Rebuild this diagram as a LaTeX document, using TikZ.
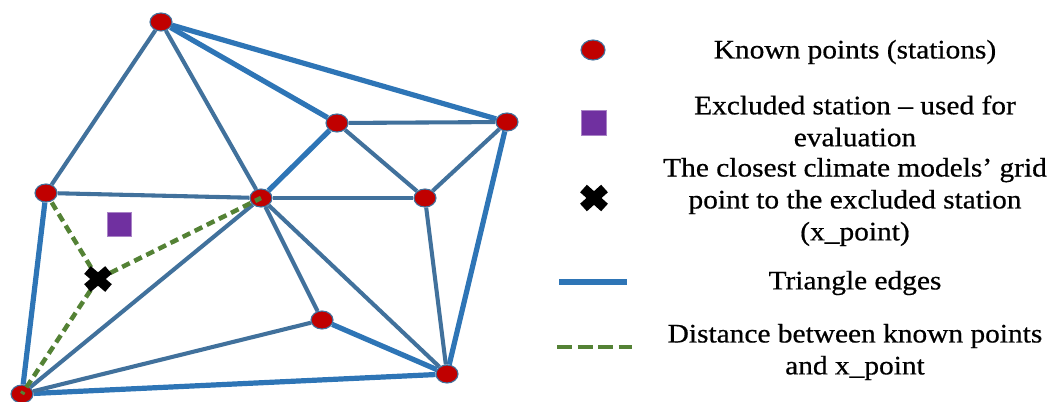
\documentclass[tikz,border=0pt]{standalone}
\usepackage{fontspec}
\setmainfont{Liberation Serif}[FakeStretch=1.1, FakeBold=0.6]
\usepackage{xcolor}
\definecolor{edgeblue}{HTML}{2E75B6}
\definecolor{innerblue}{HTML}{41719C}
\definecolor{stationred}{HTML}{C00000}
\definecolor{excludedpurple}{HTML}{7030A0}
\definecolor{distgreen}{HTML}{548235}
\usetikzlibrary{shapes.geometric, backgrounds}

\begin{document}
\begin{tikzpicture}[x=0.025cm, y=-0.025cm,
    station/.style={ellipse, draw=innerblue, line width=0.8pt, fill=stationred,
      minimum width=0.55cm, minimum height=0.45cm, inner sep=0pt},
    outeredge/.style={edgeblue, line width=3.7pt},
    inneredge/.style={innerblue, line width=2.9pt},
    distline/.style={distgreen, line width=3.2pt, dash pattern=on 6pt off 3.6pt},
    crossline/.style={black, line width=7.2pt},
    excluded/.style={fill=excludedpurple, draw=excludedpurple!60, line width=0.4pt,
      minimum size=0.59cm, inner sep=0pt},
    legendtext/.style={align=center, font={\fontsize{19}{22.7}\selectfont}}
]
  \useasboundingbox (0,0) rectangle (1050,401);

  % Stationen
  \node[station] (A) at (161,22) {};
  \node[station] (B) at (46,193) {};
  \node[station] (C) at (261,198) {};
  \node[station] (D) at (337,123) {};
  \node[station] (E) at (507,122) {};
  \node[station] (F) at (425,198) {};
  \node[station] (G) at (322,320) {};
  \node[station] (H) at (447,374) {};
  \node[station] (I) at (22,394) {};

  % Dreieckskanten
  \begin{scope}[on background layer]
    \draw[outeredge] (A) -- (E);
    \draw[outeredge] (A) -- (D);
    \draw[outeredge] (C) -- (D);
    \draw[outeredge] (B) -- (I);
    \draw[outeredge] (I) -- (H);
    \draw[outeredge] (E) -- (H);
    \draw[outeredge] (G) -- (H);
    \draw[inneredge] (A) -- (B);
    \draw[inneredge] (A) -- (C);
    \draw[inneredge] (B) -- (C);
    \draw[inneredge] (D) -- (E);
    \draw[inneredge] (D) -- (F);
    \draw[inneredge] (E) -- (F);
    \draw[inneredge] (C) -- (F);
    \draw[inneredge] (F) -- (H);
    \draw[inneredge] (C) -- (H);
    \draw[inneredge] (C) -- (G);
    \draw[inneredge] (C) -- (I);
    \draw[inneredge] (G) -- (I);
  \end{scope}

  % ausgeschlossene Station und Gitterpunkt
  \node[excluded] (excl) at (119,224) {};
  \coordinate (xpt) at (98,279);
  \draw[distline] (xpt) -- (B);
  \draw[distline] (xpt) -- (C.center);
  \draw[distline] (xpt) -- (I.center);
  \draw[crossline] (xpt) ++(-10.5,-9) -- ++(21,18) (xpt) ++(-10.5,9) -- ++(21,-18);

  % Legende
  \node[station, minimum width=0.6cm, minimum height=0.5cm] (legStation) at (593,50) {};
  \node[legendtext] (txtStation) at (855,52) {Known points (stations)};

  \node[excluded, minimum size=0.625cm] (legExcluded) at (593.5,123) {};
  \node[legendtext] (txtExcluded) at (855,121) {Excluded station – used for\\evaluation};

  \coordinate (legGrid) at (594,198);
  \draw[crossline] (legGrid) ++(-10.5,-9.5) -- ++(21,19) (legGrid) ++(-10.5,9.5) -- ++(21,-19);
  \node[legendtext] (txtGrid) at (855,202) {The closest climate models’ grid\\point to the excluded station\\(x\_point)};

  \coordinate (edgeL) at (559,282);
  \coordinate (edgeR) at (627,282);
  \draw[outeredge, line width=3.7pt] (edgeL) -- (edgeR);
  \node[legendtext] (txtEdges) at (855,283) {Triangle edges};

  \coordinate (distL) at (557,347);
  \coordinate (distR) at (632,347);
  \draw[distline, dash pattern=on 10.7pt off 3.9pt] (distL) -- (distR);
  \node[legendtext] (txtDist) at (855,352) {Distance between known points\\and x\_point};

\end{tikzpicture}
\end{document}
